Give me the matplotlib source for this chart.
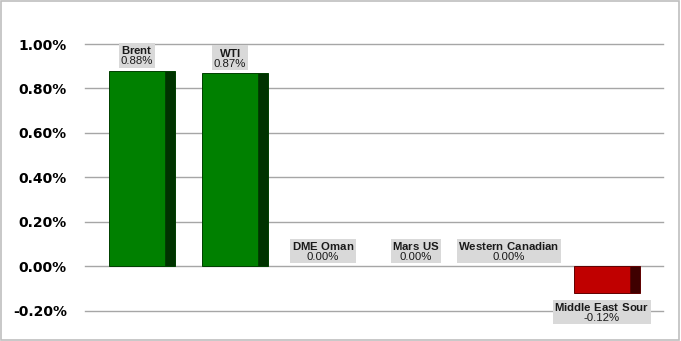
import matplotlib
matplotlib.use("Agg")
import matplotlib.pyplot as plt
import matplotlib.patches as patches
import numpy as np

categories = ["Brent", "WTI", "DME Oman", "Mars US", "Western Canadian", "Middle East Sour"]
values = [0.88, 0.87, 0.00, 0.00, 0.00, -0.12]
yticks = [-0.20, 0.00, 0.20, 0.40, 0.60, 0.80, 1.00]

plt.rcParams["mathtext.fontset"] = "custom"
plt.rcParams["mathtext.rm"] = "Liberation Sans"
plt.rcParams["mathtext.bf"] = "Liberation Sans:bold"

fig = plt.figure(figsize=(6.81, 3.41), dpi=100)
ax = fig.add_axes([85 / 681, 1 - 310.5 / 341, (663 - 85) / 681, (310.5 - 44) / 341])

x = np.arange(len(categories))
width = 0.6
depth = 0.11

# front faces and dark side faces (fake 3D look)
for xi, v in zip(x, values):
    if v == 0:
        continue
    if v > 0:
        front, side, edge = "#008000", "#003300", "#004000"
    else:
        front, side, edge = "#c00000", "#3f0000", "#600000"
    ax.bar(xi + width / 2 + depth / 2, v, width=depth, color=side,
           edgecolor=edge, linewidth=0.7, zorder=3)
    ax.bar(xi, v, width=width, color=front, edgecolor=edge,
           linewidth=0.7, zorder=4)

# data labels: bold name over value, on a grey box
for xi, v, name in zip(x, values, categories):
    label = r"$\bf{" + name.replace(" ", r"\ ") + "}$\n" + "{:.2f}%".format(v)
    if v >= 0:
        off, va = 3, "bottom"
    else:
        off, va = -6, "top"
    ax.annotate(label, (xi, v), xytext=(0, off), textcoords="offset points",
                ha="center", va=va, multialignment="center", linespacing=1.0,
                fontsize=8.2, family="Liberation Sans", color="#1a1a1a",
                bbox=dict(boxstyle="square,pad=0.12", facecolor="#d9d9d9",
                          edgecolor="none"),
                zorder=6)

ax.set_ylim(-0.2, 1.0)
ax.set_xlim(-0.56, 5.66)
ax.set_yticks(yticks)
ax.set_yticklabels(["{:.2f}%".format(t) for t in yticks],
                   fontsize=10, fontweight="bold", family="DejaVu Sans")
ax.tick_params(axis="y", length=0, pad=13)
ax.set_xticks([])
ax.grid(axis="y", color="#a6a6a6", linewidth=1.0, zorder=0)
for gl in ax.yaxis.get_gridlines():
    gl.set_clip_on(False)
for s in ax.spines.values():
    s.set_visible(False)
ax.set_axisbelow(True)

fig.patches.append(patches.Rectangle((0.0015, 0.003), 0.996, 0.994,
                                     transform=fig.transFigure, fill=False,
                                     edgecolor="#bfbfbf", linewidth=1.2))

fig.savefig("out.png", dpi=100)
